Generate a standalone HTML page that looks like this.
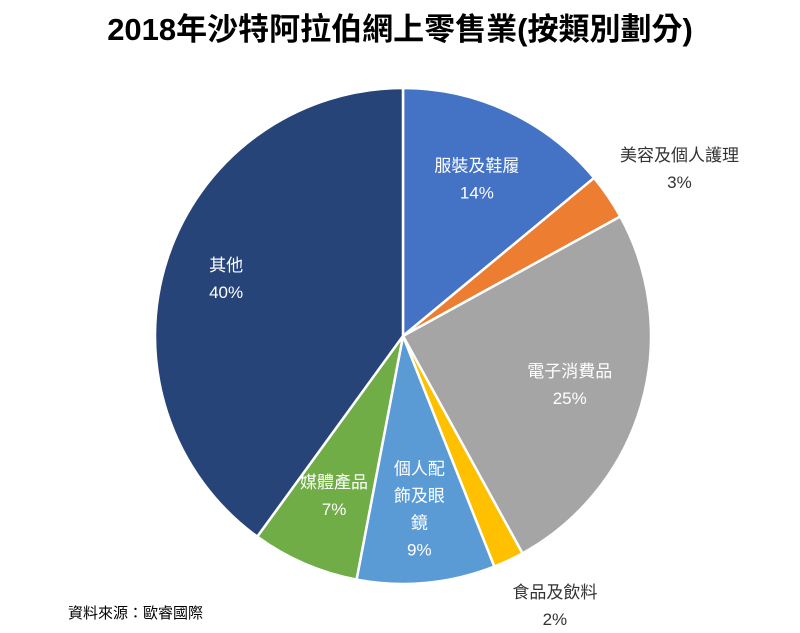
<!DOCTYPE html>
<html><head><meta charset="utf-8"><style>
body{margin:0;background:#fff;width:800px;height:628px;overflow:hidden;font-family:"Liberation Sans","Noto Sans CJK TC",sans-serif}
</style></head><body>
<svg id="chart" width="800" height="628" viewBox="0 0 800 628" xmlns="http://www.w3.org/2000/svg" font-family="Liberation Sans, Noto Sans CJK TC, sans-serif">
<text x="400" y="40" text-anchor="middle" font-size="31" font-weight="bold" fill="#000">2018年沙特阿拉伯網上零售業(按類別劃分)</text>
<g id="slices"></g>
<g id="labels"></g>
<text x="68" y="618" font-size="15" fill="#000">資料來源：歐睿國際</text>
</svg>
<script>
const categories=["服裝及鞋履","美容及個人護理","電子消費品","食品及飲料","個人配飾及眼鏡","媒體產品","其他"];
const values=[14,3,25,2,9,7,40];
const valueLabels=["14%","3%","25%","2%","9%","7%","40%"];
const colors=["#4472C4","#ED7D31","#A5A5A5","#FFC000","#5B9BD5","#70AD47","#264478"];
const cx=403,cy=336,r=248;
const total=values.reduce((a,b)=>a+b,0);
const svgNS="http://www.w3.org/2000/svg";
const gS=document.getElementById('slices'),gL=document.getElementById('labels');
function pt(a,rr){return [cx+rr*Math.sin(a),cy-rr*Math.cos(a)];}
let acc=0;
const lines={4:["個人配","飾及眼","鏡"]};
values.forEach((v,i)=>{
  const a0=acc/total*2*Math.PI; acc+=v; const a1=acc/total*2*Math.PI;
  const p0=pt(a0,r),p1=pt(a1,r);
  const large=(a1-a0)>Math.PI?1:0;
  const path=document.createElementNS(svgNS,'path');
  path.setAttribute('d',`M${cx},${cy}L${p0[0]},${p0[1]}A${r},${r} 0 ${large} 1 ${p1[0]},${p1[1]}Z`);
  path.setAttribute('fill',colors[i]);path.setAttribute('stroke','#fff');path.setAttribute('stroke-width','2.5');
  
  
  gS.appendChild(path);
  const am=(a0+a1)/2;
  const small=v<5;
  const rr=small?r+50:(v>=30?r*0.75:r*0.7);
  let [lx,ly]=pt(am,rr);
  if(small){lx+=(i===1?30:25);}
  const ls=(lines[i]||[categories[i]]).concat([valueLabels[i]]);
  const t=document.createElementNS(svgNS,'text');
  t.setAttribute('text-anchor','middle');t.setAttribute('font-size','17');
  t.setAttribute('fill',small?'#333':'#fff');
  
  
  const h=27, start=ly-(ls.length-1)*h/2+6;
  ls.forEach((s,k)=>{const ts=document.createElementNS(svgNS,'tspan');ts.setAttribute('x',lx);ts.setAttribute('y',start+k*h);ts.textContent=s;t.appendChild(ts);});
  gL.appendChild(t);
});
</script>
</body></html>
